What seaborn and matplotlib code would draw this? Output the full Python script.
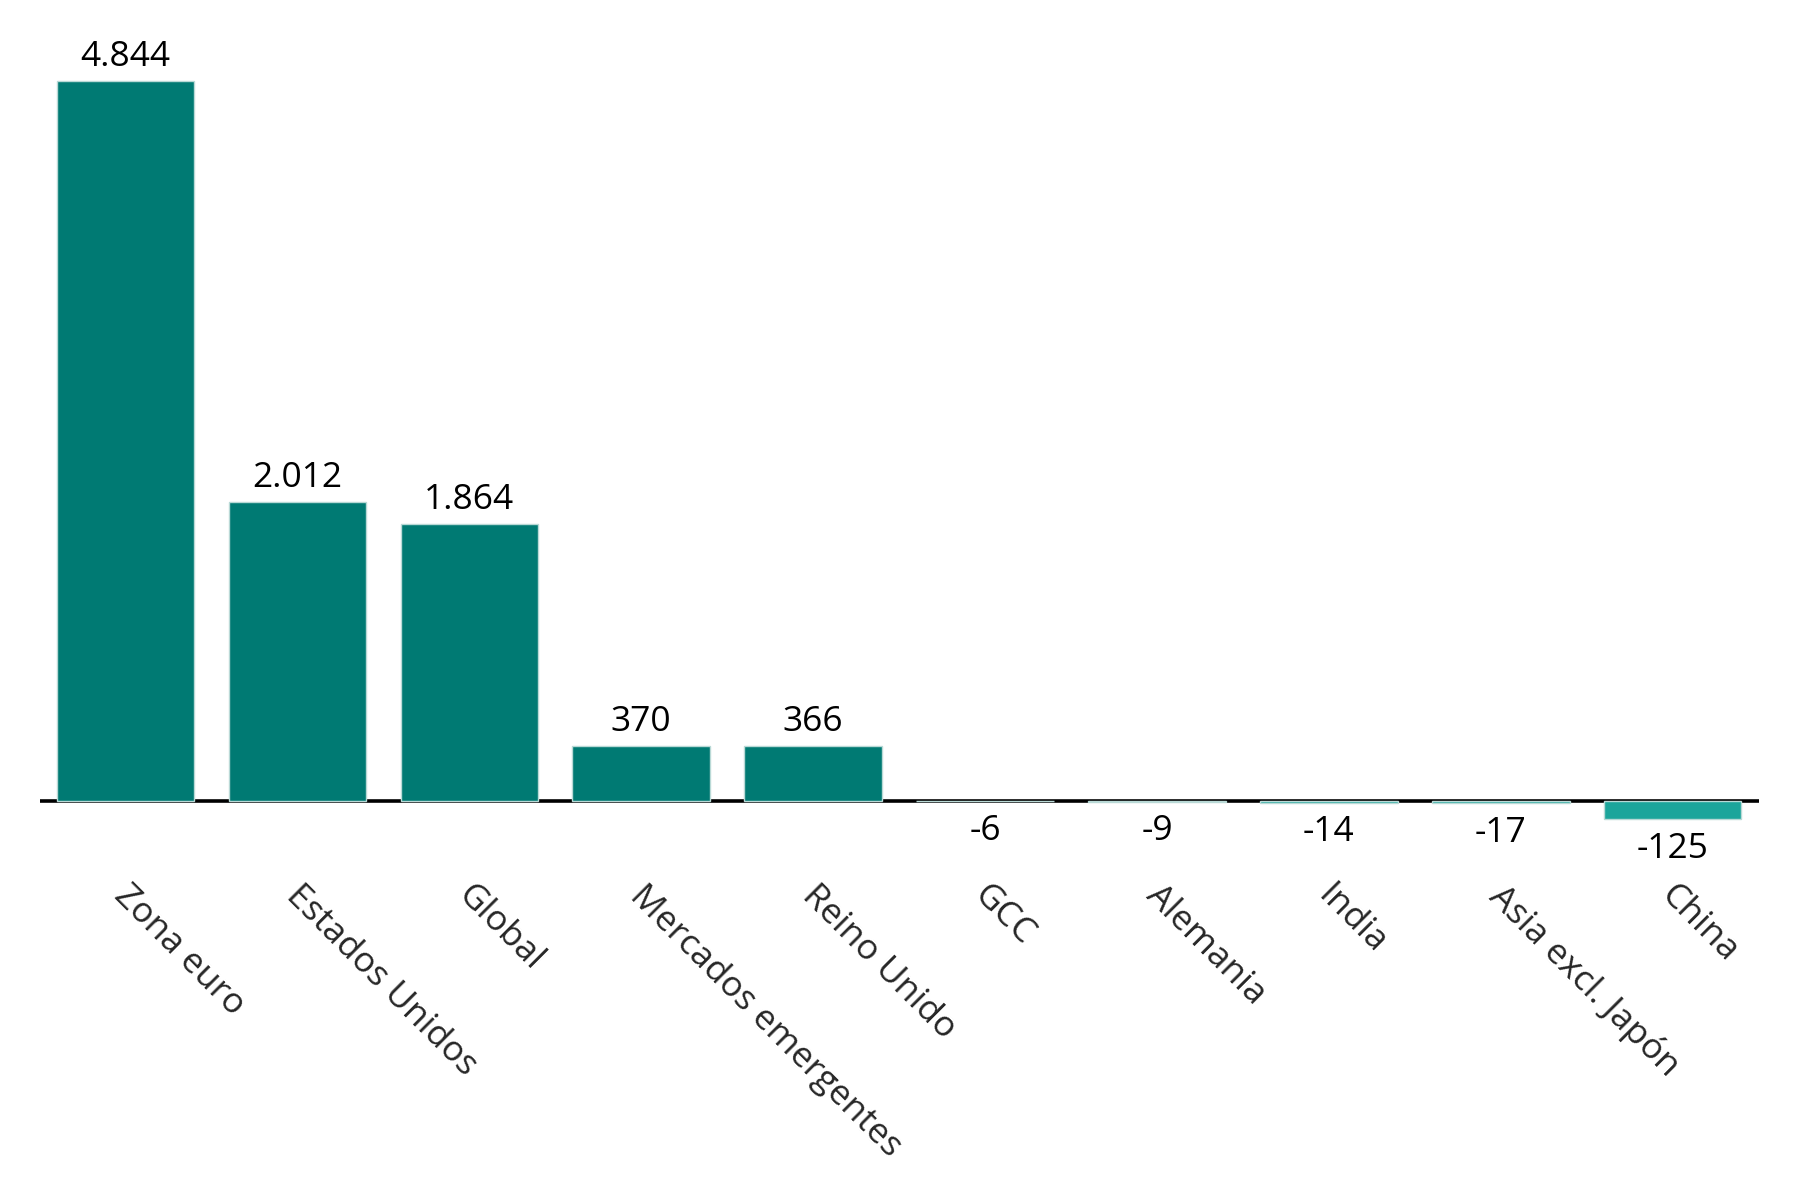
import matplotlib
matplotlib.use("Agg")
import matplotlib.pyplot as plt
import matplotlib.transforms as mtransforms
import seaborn as sns
import pandas as pd

# === Data ===
regions = ["Zona euro", "Estados Unidos", "Global", "Mercados emergentes", "Reino Unido",
           "GCC", "Alemania", "India", "Asia excl. Japón", "China"]
flows = [4844, 2012, 1864, 370, 366, -6, -9, -14, -17, -125]

POS_COLOR = "#007a73"
NEG_COLOR = "#1ca59b"
colors = [POS_COLOR if v >= 0 else NEG_COLOR for v in flows]

df = pd.DataFrame({"region": regions, "flow": flows})

# === Plot ===
sns.set_theme(style="white")
plt.rcParams["font.family"] = ["Open Sans", "DejaVu Sans"]

fig = plt.figure(figsize=(18, 12), dpi=100)
ax = fig.add_axes([0.022, 0.271, 0.955, 0.718])

sns.barplot(data=df, x="region", y="flow", hue="region", palette=colors, legend=False,
            saturation=1, width=0.8, edgecolor="#b9d9d6", linewidth=1.0, ax=ax, zorder=2)

ax.axhline(0, color="black", lw=2.6, zorder=1)
ax.set_xlim(-0.5, 9.5)
ax.set_ylim(-500, 5300)

# value labels
for i, v in enumerate(flows):
    txt = f"{v:,}".replace(",", ".")
    if v >= 0:
        ax.annotate(txt, (i, v), xytext=(0, 5), textcoords="offset points",
                    ha="center", va="bottom", fontsize=25.5, color="black")
    else:
        ax.annotate(txt, (i, v), xytext=(0, -9), textcoords="offset points",
                    ha="center", va="top", fontsize=25.5, color="black")

# axes cosmetics
for s in ax.spines.values():
    s.set_visible(False)
ax.set_yticks([])
ax.set_xlabel("")
ax.set_ylabel("")
ax.tick_params(axis="x", length=0, pad=3)
offset = mtransforms.ScaledTranslation(6 / 100, 0, fig.dpi_scale_trans)
for lbl in ax.get_xticklabels():
    lbl.set_rotation(-45)
    lbl.set_ha("left")
    lbl.set_va("top")
    lbl.set_rotation_mode("anchor")
    lbl.set_fontsize(25.5)
    lbl.set_transform(lbl.get_transform() + offset)

fig.savefig("out.png", dpi=100)
plt.close(fig)
